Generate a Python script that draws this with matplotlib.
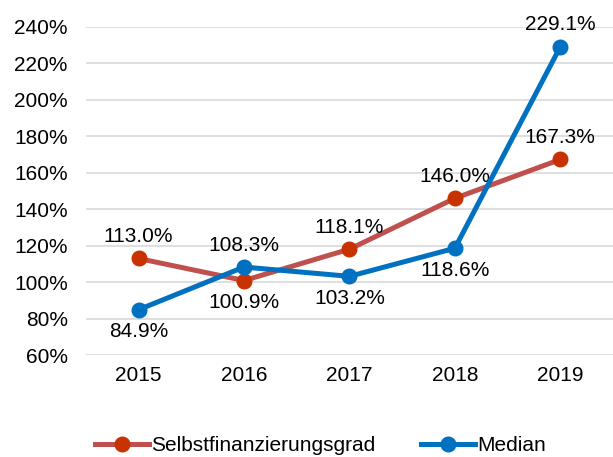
import matplotlib.pyplot as plt
from matplotlib.ticker import FuncFormatter

plt.rcParams['font.family'] = ['Liberation Sans', 'DejaVu Sans']

years = ['2015', '2016', '2017', '2018', '2019']
selbst = [113.0, 100.9, 118.1, 146.0, 167.3]
median = [84.9, 108.3, 103.2, 118.6, 229.1]
# label placement: +1 above the point, -1 below
selbst_pos = [1, -1, 1, 1, 1]
median_pos = [-1, 1, -1, -1, 1]

red_line = '#C0504D'
red_dot = '#C83200'
blue = '#0070C0'

fig = plt.figure(figsize=(6.13, 4.57), dpi=100)
ax = fig.add_axes([0.140, 0.223, 0.860, 0.718])

x = list(range(len(years)))
ax.plot(x, selbst, color=red_line, lw=3.6, marker='o', ms=10.5,
        markerfacecolor=red_dot, markeredgecolor=red_dot,
        label='Selbstfinanzierungsgrad', zorder=3)
ax.plot(x, median, color=blue, lw=3.6, marker='o', ms=10.5,
        markerfacecolor=blue, markeredgecolor=blue,
        label='Median', zorder=4)

for vals, pos in ((selbst, selbst_pos), (median, median_pos)):
    for i, (v, p) in enumerate(zip(vals, pos)):
        ax.annotate(f'{v:.1f}%', (i, v), xytext=(0, 9 * p),
                    textcoords='offset points', ha='center',
                    va='bottom' if p > 0 else 'top', fontsize=15)

ax.set_xlim(-0.5, 4.5)
ax.set_ylim(60, 240)
ax.set_yticks(range(60, 241, 20))
ax.yaxis.set_major_formatter(FuncFormatter(lambda v, _: f'{v:.0f}%'))
ax.set_xticks(x)
ax.set_xticklabels(years)
ax.tick_params(length=0, labelsize=15, pad=8)
ax.tick_params(axis='y', pad=13)
ax.grid(axis='y', color='#D9D9D9', lw=1.2)
ax.set_axisbelow(True)
for s in ax.spines.values():
    s.set_visible(False)

ax.legend(loc='upper center', bbox_to_anchor=(0.445, -0.19), ncol=2,
          frameon=False, fontsize=15, handlelength=2.6, handletextpad=0.1,
          columnspacing=2.2)

fig.savefig('out.png', dpi=100)
